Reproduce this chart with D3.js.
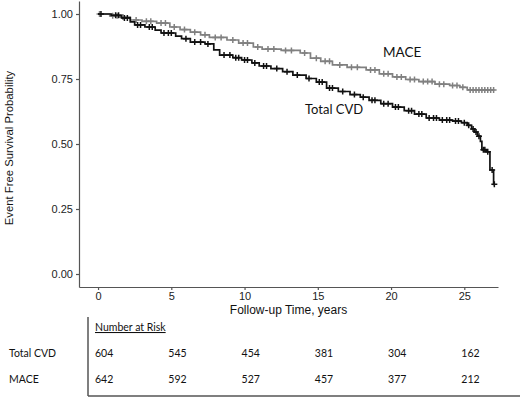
<!DOCTYPE html>
<html>
<head>
<meta charset="utf-8">
<script src="https://cdn.jsdelivr.net/npm/d3@7"></script>
<style>
  body { margin: 0; background: #fff; }
  svg { display: block; }
</style>
</head>
<body>
<script>
const width = 520,
  height = 398;

// Kaplan-Meier steps, Total CVD
const cvdTime = [0, 0.9, 1.6, 2.2, 2.5, 3.2, 3.9, 4.3, 5.3, 5.7, 6.3, 7.3, 7.9, 8.3, 9.2, 9.8, 10.5, 11.0, 11.8, 12.6,
  13.3, 14.2, 14.9, 15.6, 16.4, 17.2, 17.9, 18.5, 19.3, 20.1, 20.9, 21.6, 22.4, 23.3, 24.2, 24.8, 25.2, 25.5, 25.7, 25.9,
  26.1, 26.2, 26.5, 26.75, 27.0];
const cvdSurv = [1.0, 0.995, 0.985, 0.97, 0.958, 0.95, 0.938, 0.927, 0.915, 0.905, 0.892, 0.885, 0.862, 0.842, 0.832, 0.823, 0.812, 0.8, 0.79, 0.778,
  0.765, 0.752, 0.738, 0.715, 0.702, 0.69, 0.68, 0.668, 0.655, 0.642, 0.628, 0.615, 0.6, 0.592, 0.588, 0.582, 0.572, 0.558, 0.546, 0.53,
  0.51, 0.478, 0.47, 0.4, 0.345];
const cvdEnd = 27.05;
const cvdCensor = [0.2, 1.2, 1.4, 1.8, 2.0, 2.7, 2.9, 3.5, 3.7, 4.5, 4.8, 5.0, 6.0, 6.6, 7.0, 7.5, 8.6, 9.0, 9.4, 9.6,
  10.0, 10.2, 10.7, 11.3, 11.5, 12.2, 12.9, 13.6, 14.4, 15.1, 15.3, 15.8, 16.0, 16.7, 17.5, 18.1, 18.7, 18.9, 19.5, 19.8,
  20.3, 20.5, 21.2, 21.4, 21.9, 22.1, 22.6, 22.9, 23.1, 23.5, 23.8, 24.0, 24.4, 24.6, 25.0, 25.3, 25.6, 25.8, 26.0, 26.3,
  26.4, 26.6, 26.9, 27.05];

// Kaplan-Meier steps, MACE
const maceTime = [0, 0.8, 1.5, 2.2, 3.0, 4.0, 4.9, 5.6, 6.3, 7.0, 7.6, 8.8, 9.6, 10.6, 11.2, 12.5, 13.8, 14.5, 15.2, 16.0,
  17.0, 18.3, 19.2, 20.1, 21.0, 21.9, 23.0, 24.0, 24.7, 25.2];
const maceSurv = [1.0, 0.993, 0.988, 0.977, 0.972, 0.965, 0.95, 0.94, 0.93, 0.92, 0.91, 0.9, 0.888, 0.873, 0.865, 0.86, 0.85, 0.83, 0.818, 0.804,
  0.795, 0.785, 0.77, 0.758, 0.748, 0.74, 0.73, 0.725, 0.718, 0.708];
const maceEnd = 27.05;
const maceCensor = [0.1, 1.0, 1.3, 1.7, 2.6, 3.3, 3.6, 4.3, 4.6, 5.2, 5.9, 6.6, 7.3, 8.0, 8.4, 9.2, 9.9, 10.2, 10.9, 11.6,
  12.0, 12.8, 13.2, 14.1, 14.9, 15.5, 15.8, 16.5, 17.3, 17.7, 18.6, 18.9, 19.5, 19.8, 20.4, 20.7, 21.3, 21.6, 22.2, 22.5,
  22.8, 23.3, 23.6, 24.2, 24.5, 24.9, 25.4, 25.6, 25.8, 26.0, 26.2, 26.4, 26.6, 26.8, 27.0];

const xTicks = [0, 5, 10, 15, 20, 25];
const yTicks = [0, 0.25, 0.5, 0.75, 1];

// number at risk table
const riskGroups = ['Total CVD', 'MACE'];
const riskCvd = [604, 545, 454, 381, 304, 162];
const riskMace = [642, 592, 527, 457, 377, 212];

const x = d3.scaleLinear().domain([-1.3, 27.3]).range([79, 498]);
const y = d3.scaleLinear().domain([-0.05, 1.05]).range([287, 1]);

const svg = d3.select('body').append('svg')
  .attr('width', width)
  .attr('height', height);

const axisColor = '#555';
const tickFont = '"Liberation Sans", Arial, sans-serif';
const textFont = 'Lato, "Open Sans", sans-serif';

// axes
svg.append('g')
  .attr('transform', `translate(0,${y.range()[0]})`)
  .call(d3.axisBottom(x).tickValues(xTicks).tickSize(3).tickSizeOuter(0).tickPadding(2))
  .call(g => g.selectAll('line, path').attr('stroke', axisColor).attr('stroke-width', 1.2))
  .call(g => g.selectAll('text').attr('font-family', tickFont).attr('font-size', 11).attr('fill', '#222'));

svg.append('g')
  .attr('transform', `translate(${x.range()[0]},0)`)
  .call(d3.axisLeft(y).tickValues(yTicks).tickFormat(d3.format('.2f')).tickSize(3).tickSizeOuter(0).tickPadding(3))
  .call(g => g.selectAll('line, path').attr('stroke', axisColor).attr('stroke-width', 1.2))
  .call(g => g.selectAll('text').attr('font-family', tickFont).attr('font-size', 11).attr('fill', '#222'));

svg.append('text')
  .attr('transform', `translate(13,${(y(1) + y(0)) / 2 + 4}) rotate(-90)`)
  .attr('text-anchor', 'middle')
  .attr('font-family', tickFont)
  .attr('font-size', 11.3)
  .attr('fill', '#111')
  .text('Event Free Survival Probability');

svg.append('text')
  .attr('x', (x.range()[0] + x.range()[1]) / 2)
  .attr('y', 314)
  .attr('text-anchor', 'middle')
  .attr('font-family', tickFont)
  .attr('font-size', 12)
  .attr('fill', '#111')
  .text('Follow-up Time, years');

// step curves
function stepPoints(times, surv, end) {
  const pts = times.map((t, i) => [t, surv[i]]);
  pts.push([end, surv[surv.length - 1]]);
  return pts;
}
function survAt(times, surv, t) {
  const i = d3.bisectRight(times, t) - 1;
  return surv[Math.max(0, i)];
}

const line = d3.line()
  .x(d => x(d[0]))
  .y(d => y(d[1]))
  .curve(d3.curveStepAfter);

const series = [
  { times: maceTime, surv: maceSurv, end: maceEnd, censor: maceCensor, color: '#808080' },
  { times: cvdTime, surv: cvdSurv, end: cvdEnd, censor: cvdCensor, color: '#111' }
];

series.forEach(s => {
  svg.append('path')
    .datum(stepPoints(s.times, s.surv, s.end))
    .attr('fill', 'none')
    .attr('stroke', s.color)
    .attr('stroke-width', 1.7)
    .attr('d', line);

  svg.append('g')
    .selectAll('path')
    .data(s.censor)
    .enter().append('path')
    .attr('transform', d => `translate(${x(d)},${y(survAt(s.times, s.surv, d))})`)
    .attr('d', 'M-3,0H3M0,-3V3')
    .attr('stroke', s.color)
    .attr('stroke-width', 1.5);
});

// curve labels
svg.append('text')
  .attr('x', 383).attr('y', 57)
  .attr('font-family', textFont).attr('font-size', 13.5)
  .attr('fill', '#111')
  .text('MACE');

svg.append('text')
  .attr('x', 305).attr('y', 114)
  .attr('font-family', textFont).attr('font-size', 13)
  .attr('fill', '#111')
  .text('Total CVD');

// number at risk table
const table = svg.append('g');

table.append('line')
  .attr('x1', 88).attr('x2', 88)
  .attr('y1', 317).attr('y2', 396)
  .attr('stroke', axisColor).attr('stroke-width', 1.5);

table.append('line')
  .attr('x1', 88).attr('x2', width)
  .attr('y1', 396).attr('y2', 396)
  .attr('stroke', axisColor).attr('stroke-width', 1.5);

table.append('text')
  .attr('x', 95).attr('y', 331)
  .attr('font-family', textFont).attr('font-size', 10.5)
  .attr('fill', '#111')
  .attr('text-decoration', 'underline')
  .text('Number at Risk');

const rowY = [357, 383];
[riskCvd, riskMace].forEach((row, r) => {
  table.append('text')
    .attr('x', 9).attr('y', rowY[r])
    .attr('font-family', textFont).attr('font-size', 10.5)
    .attr('fill', '#111')
    .text(riskGroups[r]);

  table.selectAll(null)
    .data(row)
    .enter().append('text')
    .attr('x', (d, i) => x(xTicks[i]) - 3)
    .attr('y', rowY[r])
    .attr('font-family', textFont).attr('font-size', 10.5)
    .attr('fill', '#111')
    .text(d => d);
});
</script>
</body>
</html>
